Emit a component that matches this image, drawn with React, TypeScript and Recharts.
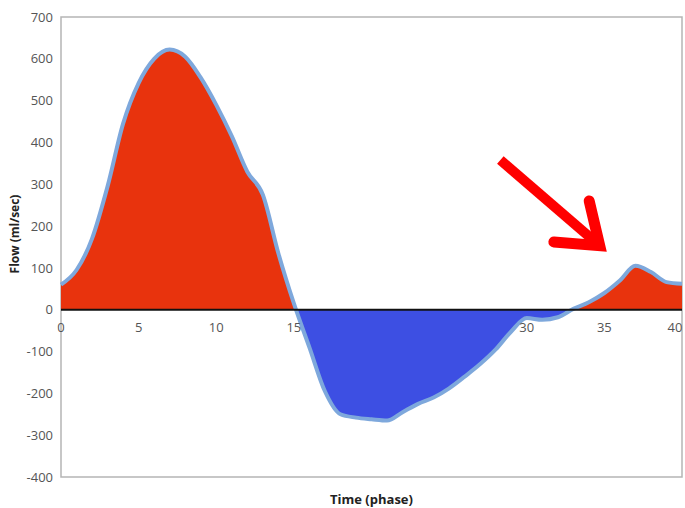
import React from 'react';
import {
  AreaChart,
  Area,
  XAxis,
  YAxis,
  ReferenceLine,
  ReferenceArea,
  ReferenceDot,
} from 'recharts';

// time (phase) samples and flow values
const phases = [
  0, 1, 2, 3, 4, 5, 6, 7, 8, 9, 10, 11, 12, 13, 14, 15, 16, 17, 18, 19, 20,
  21, 22, 23, 24, 25, 26, 27, 28, 29, 30, 31, 32, 33, 34, 35, 36, 37, 38, 39, 40,
];
const flow = [
  60, 95, 170, 295, 445, 542, 600, 622, 605, 555, 490, 415, 330, 275, 135, 15,
  -90, -195, -250, -258, -262, -265, -245, -225, -210, -188, -160, -130, -95, -52,
  -20, -24, -18, 2, 18, 40, 70, 105, 90, 66, 62,
];
const yTicks = [-400, -300, -200, -100, 0, 100, 200, 300, 400, 500, 600, 700];
const xTickLabels = [0, 5, 10, 15, 30, 35, 40];
// annotation arrow, in data units (phase, flow)
const arrowFrom = { x: 28.3, y: 358 };
const arrowTo = { x: 34.7, y: 153 };

const data = phases.map((t, i) => ({ t, flow: flow[i] }));

const maxFlow = Math.max(...flow);
const minFlow = Math.min(...flow);
const zeroOffset = maxFlow / (maxFlow - minFlow);

const FONT = '"Open Sans", "DejaVu Sans", sans-serif';

const Arrow = (props: any) => {
  const { x1, y1, x2, y2 } = props;
  const ang = Math.atan2(y2 - y1, x2 - x1);
  const len = 46;
  const spread = (36 * Math.PI) / 180;
  const ax = x2 - len * Math.cos(ang - spread);
  const ay = y2 - len * Math.sin(ang - spread);
  const bx = x2 - len * Math.cos(ang + spread);
  const by = y2 - len * Math.sin(ang + spread);
  return (
    <g>
      <line x1={x1} y1={y1} x2={x2 - 6 * Math.cos(ang)} y2={y2 - 6 * Math.sin(ang)} stroke="#ff0000" strokeWidth={10} />
      <path
        d={`M${ax},${ay} L${x2},${y2} L${bx},${by}`}
        fill="none"
        stroke="#ff0000"
        strokeWidth={11}
        strokeLinecap="round"
        strokeLinejoin="miter"
      />
    </g>
  );
};

export default function App() {
  return (
    <div style={{ position: 'absolute', left: 0, top: 0, background: '#fff' }}>
      <AreaChart
        width={685}
        height={508}
        data={data}
        margin={{ top: 17, right: 3, bottom: 0, left: 0 }}
      >
        <defs>
          <linearGradient id="flowFill" x1="0" y1="0" x2="0" y2="1">
            <stop offset={zeroOffset} stopColor="#e8330d" />
            <stop offset={zeroOffset} stopColor="#3d4fe3" />
          </linearGradient>
        </defs>
        <XAxis
          dataKey="t"
          type="number"
          domain={[0, 40]}
          height={31}
          tick={false}
          axisLine={false}
          tickLine={false}
          label={{
            value: 'Time (phase)',
            position: 'insideBottom',
            offset: 4,
            style: { fontFamily: FONT, fontSize: 13, fontWeight: 700, fill: '#222' },
          }}
        />
        <YAxis
          type="number"
          domain={[-400, 700]}
          ticks={yTicks}
          width={61}
          axisLine={false}
          tickLine={false}
          interval={0}
          tick={{ fontFamily: FONT, fontSize: 13, fill: '#555' }}
          label={{
            value: 'Flow (ml/sec)',
            angle: -90,
            position: 'center',
            dx: -16,
            dy: -13,
            style: { fontFamily: FONT, fontSize: 12, fontWeight: 700, fill: '#222', textAnchor: 'middle' },
          }}
        />
        <ReferenceArea
          x1={0}
          x2={40}
          y1={-400}
          y2={700}
          fill="none"
          stroke="#b5b5b5"
          strokeWidth={1.5}
          ifOverflow="extendDomain"
        />
        <Area
          type="monotone"
          dataKey="flow"
          stroke="#7ea8dc"
          strokeWidth={4}
          fill="url(#flowFill)"
          fillOpacity={1}
          isAnimationActive={false}
          dot={false}
          activeDot={false}
        />
        <ReferenceLine y={0} stroke="#111" strokeWidth={2} />
        {xTickLabels.map((t) => (
          <ReferenceDot
            key={t}
            x={t}
            y={0}
            r={0}
            fill="none"
            stroke="none"
            ifOverflow="visible"
            label={{
              value: String(t),
              position: 'bottom',
              offset: 13,
              dx: t === 40 ? -7 : 0,
              style: { fontFamily: FONT, fontSize: 13, fill: '#555' },
            }}
          />
        ))}
        <ReferenceLine
          segment={[arrowFrom, arrowTo]}
          ifOverflow="visible"
          shape={Arrow}
        />
      </AreaChart>
    </div>
  );
}
